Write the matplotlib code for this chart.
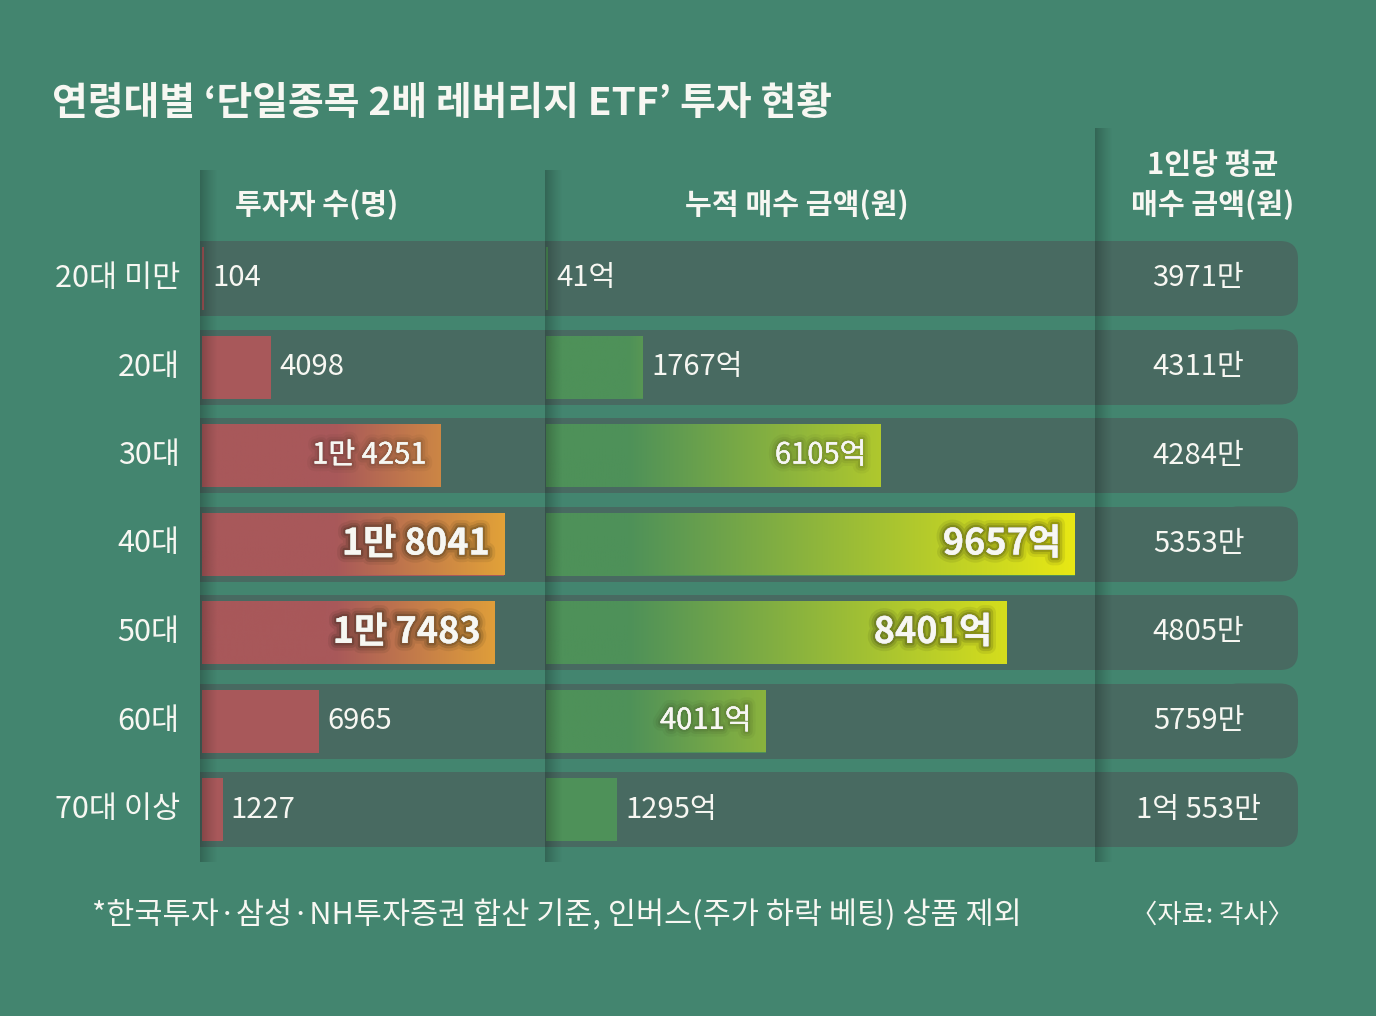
import numpy as np
import matplotlib.pyplot as plt
import matplotlib.patheffects as pe
from matplotlib.patches import Rectangle, FancyBboxPatch
from matplotlib.colors import to_rgb

plt.rcParams['font.family'] = ['Noto Sans CJK KR', 'DejaVu Sans']

# ---- data ----
ages = ['20대 미만', '20대', '30대', '40대', '50대', '60대', '70대 이상']
investors = [104, 4098, 14251, 18041, 17483, 6965, 1227]          # 명
investor_labels = ['104', '4098', '1만 4251', '1만 8041', '1만 7483', '6965', '1227']
amounts = [41, 1767, 6105, 9657, 8401, 4011, 1295]                # 억원
amount_labels = ['41억', '1767억', '6105억', '9657억', '8401억', '4011억', '1295억']
per_person = ['3971만', '4311만', '4284만', '5353만', '4805만', '5759만', '1억 553만']

title = '연령대별 ‘단일종목 2배 레버리지 ETF’ 투자 현황'
head1 = '투자자 수(명)'
head2 = '누적 매수 금액(원)'
head3 = ['1인당 평균', '매수 금액(원)']
note = '*한국투자·삼성·NH투자증권 합산 기준, 인버스(주가 하락 베팅) 상품 제외'
source = '〈자료: 각사〉'

# ---- style ----
W, H = 1376, 1016
BG = '#43856F'
BAND = '#486A61'
RED, ORANGE = np.array(to_rgb('#A8585A')), np.array(to_rgb('#E2A238'))
GREEN, YELLOW = np.array(to_rgb('#4E9159')), np.array(to_rgb('#E8E814'))
WHITE = '#F7F7F2'

ROW0, PITCH = 278.5, 88.5      # pixel centre of first row, row pitch
BAND_H, BAR_H = 75, 63

fig = plt.figure(figsize=(W / 100, H / 100), dpi=100)
fig.patch.set_facecolor(BG)

# base layer: row bands, headings
base = fig.add_axes([0, 0, 1, 1], zorder=0)
base.axis('off')

# column panels (only visible through their left-edge shadow)
panels = [(200, 170), (545, 170), (1095, 128)]

for i in range(len(ages)):
    yc = ROW0 + PITCH * i
    base.add_patch(Rectangle((200, yc - BAND_H / 2), 1060, BAND_H, color=BAND, lw=0))
    base.add_patch(FancyBboxPatch((1220, yc - BAND_H / 2), 78, BAND_H,
                                  boxstyle='round,pad=0,rounding_size=18',
                                  color=BAND, lw=0))
base.set_xlim(0, W)
base.set_ylim(H, 0)


def px_axes(x0, x1, y0=ROW0 - PITCH / 2, y1=ROW0 + PITCH * 6.5):
    ax = fig.add_axes([x0 / W, 1 - y1 / H, (x1 - x0) / W, (y1 - y0) / H], zorder=2)
    ax.axis('off')
    ax.patch.set_alpha(0)
    return ax


ax1 = px_axes(202, 545)
ax2 = px_axes(546, 1095)
ax3 = px_axes(1095, 1298)


def gradient_bars(ax, values, base_c, top_c, start, gamma):
    bars = ax.barh(range(len(values)), values, height=BAR_H / PITCH, color=base_c, lw=0, zorder=2)
    vmax = max(values)
    for bar, v in zip(bars, values):
        if v <= start:
            continue
        f = ((v - start) / (vmax - start)) ** gamma
        end = base_c + (top_c - base_c) * f
        x = np.linspace(0, v, 300)
        t = np.clip((x - start) / (v - start), 0, 1)
        rgb = base_c[None, :] + (end - base_c)[None, :] * t[:, None]
        y0, h = bar.get_y(), bar.get_height()
        im = ax.imshow(rgb[None, :, :], extent=[0, v, y0 + h, y0], aspect='auto',
                       interpolation='bilinear', zorder=3)
        im.set_clip_path(bar)
    return bars


def glow(strength):
    a = 0.07 * strength
    return [pe.withStroke(linewidth=11, foreground=(0.1, 0.1, 0.05, a * 0.6)),
            pe.withStroke(linewidth=7, foreground=(0.1, 0.1, 0.05, a)),
            pe.withStroke(linewidth=3.5, foreground=(0.1, 0.1, 0.05, a * 1.4))]


def value_labels(ax, values, labels):
    vmax = max(values)
    top2 = sorted(values)[-2]
    for i, (v, lab) in enumerate(zip(values, labels)):
        inside = v > 0.4 * vmax
        big = v >= top2
        if inside:
            ax.annotate(lab, xy=(v, i), xytext=(-10, 0), textcoords='offset points',
                        ha='right', va='center', color=WHITE,
                        fontsize=26 if big else 21, fontweight='bold' if big else 'medium',
                        path_effects=glow(2 if big else 1), zorder=5)
        else:
            ax.annotate(lab, xy=(v, i), xytext=(6, 0), textcoords='offset points',
                        ha='left', va='center', color=WHITE, fontsize=21,
                        fontweight='medium', zorder=5)


gradient_bars(ax1, investors, RED, ORANGE, 7950, 1.0)
value_labels(ax1, investors, investor_labels)
ax1.set_xlim(0, max(investors) * 343 / 302)
ax1.set_ylim(len(ages) - 0.5, -0.5)

gradient_bars(ax2, amounts, GREEN, YELLOW, 1500, 0.8)
value_labels(ax2, amounts, amount_labels)
ax2.set_xlim(0, max(amounts) * 549 / 529)
ax2.set_ylim(len(ages) - 0.5, -0.5)

ax3.set_xlim(0, 1)
ax3.set_ylim(len(ages) - 0.5, -0.5)
for i, lab in enumerate(per_person):
    ax3.text(0.51, i, lab, ha='center', va='center', color=WHITE, fontsize=21,
             fontweight='medium')

for i, age in enumerate(ages):
    ax1.annotate(age, xy=(0, i), xycoords=('axes fraction', 'data'), xytext=(-16, 0),
                 textcoords='offset points', ha='right', va='center', color=WHITE,
                 fontsize=22, fontweight='medium')

# top layer: panel left-edge shadows drawn over the bars
top = fig.add_axes([0, 0, 1, 1], zorder=3)
top.axis('off')
top.patch.set_alpha(0)
for x0, y_top in panels:
    img = np.zeros((1, 64, 4))
    img[..., 3] = np.linspace(0.30, 0, 64) ** 1.2
    top.imshow(img, extent=[x0, x0 + 18, 862, y_top], aspect='auto', interpolation='bilinear')
top.set_xlim(0, W)
top.set_ylim(H, 0)

# ---- texts ----
base.text(52, 103, title, ha='left', va='center', color=WHITE, fontsize=28, fontweight='bold')
base.text(317, 205, head1, ha='center', va='center', color=WHITE, fontsize=21, fontweight='bold')
base.text(797, 205, head2, ha='center', va='center', color=WHITE, fontsize=21, fontweight='bold')
base.text(1213, 165, head3[0], ha='center', va='center', color=WHITE, fontsize=21, fontweight='bold')
base.text(1213, 205, head3[1], ha='center', va='center', color=WHITE, fontsize=21, fontweight='bold')
base.text(92, 915, note, ha='left', va='center', color=WHITE, fontsize=22, fontweight='medium')
base.text(1212, 915, source, ha='center', va='center', color=WHITE, fontsize=19, fontweight='medium')

fig.savefig('out.png', dpi=100, facecolor=BG)
